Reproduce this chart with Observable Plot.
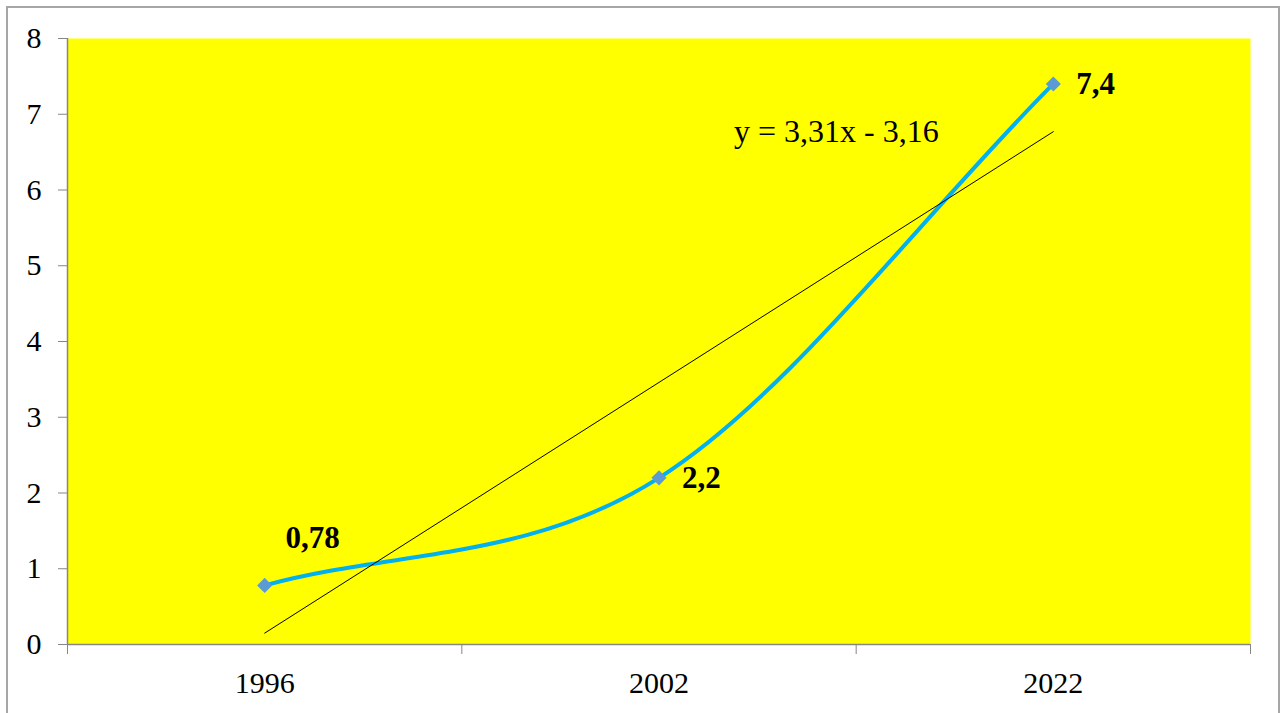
<!DOCTYPE html>
<html><head><meta charset="utf-8">
<script src="https://cdn.jsdelivr.net/npm/d3@7"></script>
<script src="https://cdn.jsdelivr.net/npm/@observablehq/plot@0.6"></script>
<style>
body{margin:0;background:#fff;}
#wrap{position:relative;width:1282px;height:713px;overflow:hidden;}
#border{position:absolute;left:6px;top:6px;width:1274px;height:730px;border:2px solid #a6a6a6;pointer-events:none;box-sizing:border-box;}
</style></head><body><div id="wrap"><div id="chart"></div><div id="border"></div></div>
<script>
const years = ["1996", "2002", "2022"];
const values = [0.78, 2.2, 7.4];
const valueLabels = ["0,78", "2,2", "7,4"];
const trendSlope = 3.31;
const trendIntercept = -3.16;
const trendLabel = "y = 3,31x - 3,16";
const yTicks = [0, 1, 2, 3, 4, 5, 6, 7, 8];

const data = years.map((year, k) => ({i: k + 1, year, value: values[k], label: valueLabels[k]}));
const trend = x => trendSlope * x + trendIntercept;
const trendData = [1, years.length].map(x => ({x, y: trend(x)}));
const boundaries = d3.range(years.length + 1).map(k => k + 0.5);
const grey = "#868686";

// Spreadsheet-style smoothed line: uniform Catmull-Rom with reflected end points
function smoothCurve(context) {
  let pts = [];
  return {
    areaStart() {}, areaEnd() {},
    lineStart() { pts = []; },
    point(x, y) { pts.push([+x, +y]); },
    lineEnd() {
      const n = pts.length;
      if (!n) return;
      context.moveTo(pts[0][0], pts[0][1]);
      if (n === 1) return;
      if (n === 2) { context.lineTo(pts[1][0], pts[1][1]); return; }
      const P = [[2 * pts[0][0] - pts[1][0], 2 * pts[0][1] - pts[1][1]], ...pts,
                 [2 * pts[n - 1][0] - pts[n - 2][0], 2 * pts[n - 1][1] - pts[n - 2][1]]];
      for (let k = 1; k < n; k++) {
        const p0 = P[k - 1], p1 = P[k], p2 = P[k + 1], p3 = P[k + 2];
        context.bezierCurveTo(
          p1[0] + (p2[0] - p0[0]) / 6, p1[1] + (p2[1] - p0[1]) / 6,
          p2[0] - (p3[0] - p1[0]) / 6, p2[1] - (p3[1] - p1[1]) / 6,
          p2[0], p2[1]);
      }
    }
  };
}

const chart = Plot.plot({
  width: 1282,
  height: 713,
  marginLeft: 67,
  marginRight: 32,
  marginTop: 38,
  marginBottom: 69,
  style: {fontFamily: "'Liberation Serif', 'Times New Roman', serif", fontSize: "30px", background: "transparent", color: "black"},
  x: {domain: [0.5, years.length + 0.5]},
  y: {domain: [0, 8]},
  marks: [
    Plot.frame({fill: "#FFFF00", stroke: null}),
    Plot.axisY({ticks: yTicks, tickSize: 9, tickPadding: 17, tickFormat: d => String(d), stroke: grey, fill: "black", fontSize: 30, label: null}),
    Plot.axisX({ticks: boundaries, tickSize: 10, tickFormat: () => "", stroke: grey, label: null}),
    Plot.axisX({ticks: data.map(d => d.i), tickSize: 0, tickPadding: 27, tickFormat: i => years[i - 1], fill: "black", fontSize: 30, label: null}),
    Plot.ruleX([0.5], {stroke: grey, strokeWidth: 1.5}),
    Plot.ruleY([0], {stroke: grey, strokeWidth: 1.5}),
    Plot.line(data, {x: "i", y: "value", curve: smoothCurve, stroke: "#00B0F0", strokeWidth: 4}),
    Plot.line(trendData, {x: "x", y: "y", stroke: "black", strokeWidth: 1}),
    Plot.dot(data, {x: "i", y: "value", symbol: "diamond2", r: 6.8, fill: "#5B9BD5", stroke: null}),
    Plot.text([data[0]], {x: "i", y: "value", text: "label", dx: 48, dy: -47, textAnchor: "middle", fontSize: 31, fontWeight: "bold"}),
    Plot.text([data[1]], {x: "i", y: "value", text: "label", dx: 23, textAnchor: "start", fontSize: 31, fontWeight: "bold"}),
    Plot.text([data[2]], {x: "i", y: "value", text: "label", dx: 23, textAnchor: "start", fontSize: 31, fontWeight: "bold"}),
    Plot.text([trendData[1]], {x: "x", y: "y", text: () => trendLabel, dx: -217, textAnchor: "middle", fontSize: 32})
  ]
});
document.getElementById("chart").appendChild(chart);
</script>
</body></html>
